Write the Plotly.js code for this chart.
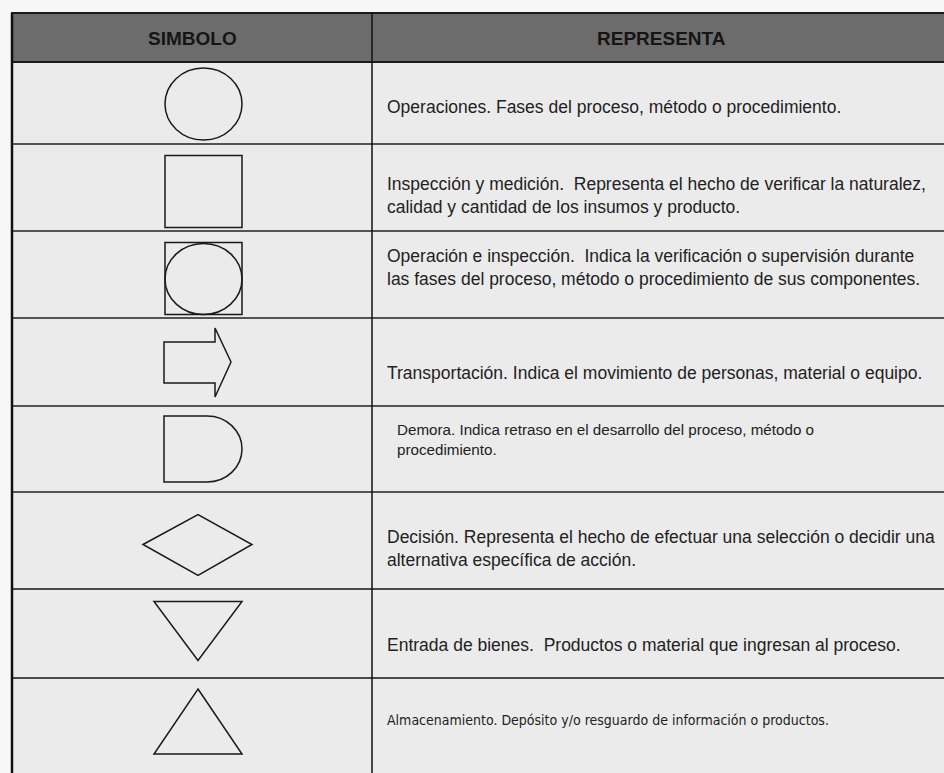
<!DOCTYPE html>
<html>
<head>
<meta charset="utf-8">
<script src="https://cdn.plot.ly/plotly-3.0.1.min.js"></script>
<style>
  html, body { margin: 0; padding: 0; background: #f7f7f7; }
  #chart { width: 944px; height: 773px; }
</style>
</head>
<body>
<div id="chart"></div>
<script>
// ---- data ----
const headers = ['SIMBOLO', 'REPRESENTA'];
const symbols = ['circle', 'square', 'circleInSquare', 'arrow', 'delay', 'diamond', 'triangleDown', 'triangleUp'];
const descriptions = [
  'Operaciones. Fases del proceso, método o procedimiento.',
  'Inspección y medición.  Representa el hecho de verificar la naturalez,<br>calidad y cantidad de los insumos y producto.',
  'Operación e inspección.  Indica la verificación o supervisión durante<br>las fases del proceso, método o procedimiento de sus componentes.',
  'Transportación. Indica el movimiento de personas, material o equipo.',
  'Demora. Indica retraso en el desarrollo del proceso, método o<br>procedimiento.',
  'Decisión. Representa el hecho de efectuar una selección o decidir una<br>alternativa específica de acción.',
  'Entrada de bienes.  Productos o material que ingresan al proceso.',
  'Almacenamiento. Depósito y/o resguardo de información o productos.'
];

// ---- geometry / styles (pixel space of the page) ----
const W = 944, H = 773;
const G = {
  left: 12, right: 948, top: 13, headBottom: 62, colDiv: 372,
  rowBottoms: [144, 231, 318, 406, 492, 589, 678, 800],
  textX: 385
};
const ink = '#1a1a1a';
const lineStyle = { color: ink, width: 1.5 };

const shapes = [];
// table background
shapes.push({ type: 'rect', xref: 'x', yref: 'y', x0: G.left, x1: G.right, y0: G.top, y1: 800,
  fillcolor: '#ebebeb', line: { width: 0 }, layer: 'below' });
// header
shapes.push({ type: 'rect', xref: 'x', yref: 'y', x0: G.left, x1: G.right, y0: G.top, y1: G.headBottom,
  fillcolor: '#6c6c6c', line: { color: ink, width: 2 }, layer: 'below' });

// row separators
const rowTops = [G.headBottom].concat(G.rowBottoms.slice(0, -1));
rowTops.forEach((y, i) => {
  if (i === 0) return;
  shapes.push({ type: 'line', xref: 'x', yref: 'y', x0: G.left, x1: G.right, y0: y, y1: y,
    line: { color: (i === 6 || i === 7) ? '#4a4a4a' : '#222', width: (i === 6 || i === 7) ? 2 : 1.6 } });
});
// vertical lines
shapes.push({ type: 'line', xref: 'x', yref: 'y', x0: G.left, x1: G.left, y0: G.top, y1: 800,
  line: { color: '#111', width: 2.5 } });
shapes.push({ type: 'line', xref: 'x', yref: 'y', x0: G.colDiv, x1: G.colDiv, y0: G.top, y1: 800,
  line: { color: '#111', width: 1.5 } });

// symbols
const k = 0.5523;
function symbolShapes(name, top, bottom) {
  const cy = (top + bottom) / 2;
  const out = [];
  const sx0 = 165, sx1 = 242;
  switch (name) {
    case 'circle':
      out.push({ type: 'circle', x0: sx0, x1: sx1, y0: cy - 35, y1: cy + 37 });
      break;
    case 'square':
      out.push({ type: 'rect', x0: sx0, x1: sx1, y0: cy - 32, y1: cy + 40 });
      break;
    case 'circleInSquare':
      out.push({ type: 'rect', x0: sx0, x1: sx1, y0: cy - 32, y1: cy + 40 });
      out.push({ type: 'circle', x0: sx0, x1: sx1, y0: cy - 31, y1: cy + 40 });
      break;
    case 'arrow': {
      const p = [[164, cy - 20], [215, cy - 20], [215, cy - 34], [231, cy], [215, cy + 35], [215, cy + 21], [164, cy + 21]];
      out.push({ type: 'path', path: 'M' + p.map(q => q.join(',')).join(' L') + ' Z' });
      break;
    }
    case 'delay': {
      const t = cy - 33, b = cy + 33, xs = 207, rx = 35, ry = 33;
      const path = `M164,${t} L${xs},${t} C${xs + rx * k},${t} ${xs + rx},${cy - ry * k} ${xs + rx},${cy} ` +
        `C${xs + rx},${cy + ry * k} ${xs + rx * k},${b} ${xs},${b} L164,${b} Z`;
      out.push({ type: 'path', path });
      break;
    }
    case 'diamond': {
      const c = cy + 4;
      out.push({ type: 'path', path: `M143,${c} L198,${c - 30} L252,${c} L198,${c + 31} Z` });
      break;
    }
    case 'triangleDown': {
      out.push({ type: 'path', path: `M154,${cy - 32} L242,${cy - 32} L198,${cy + 27} Z` });
      break;
    }
    case 'triangleUp': {
      out.push({ type: 'path', path: `M198,${top + 11} L242,${top + 76} L154,${top + 76} Z` });
      break;
    }
  }
  return out.map(s => Object.assign({ xref: 'x', yref: 'y', line: lineStyle, fillcolor: 'rgba(0,0,0,0)' }, s));
}
symbols.forEach((s, i) => {
  symbolShapes(s, rowTops[i], G.rowBottoms[i]).forEach(sh => shapes.push(sh));
});

// annotations
const annotations = [];
annotations.push({ text: '<b>' + headers[0] + '</b>', x: (G.left + G.colDiv) / 2, y: 38, xref: 'x', yref: 'y',
  showarrow: false, font: { family: 'Liberation Sans, Arial, sans-serif', size: 19, color: '#151515' } });
annotations.push({ text: '<b>' + headers[1] + '</b>', x: (G.colDiv + G.right) / 2 + 1, y: 38, xref: 'x', yref: 'y',
  showarrow: false, font: { family: 'Liberation Sans, Arial, sans-serif', size: 19, color: '#151515' } });

const textY = [107, 195, 267, 373, 439, 548, 645, 720];
descriptions.forEach((d, i) => {
  let font = { family: 'Liberation Sans, Arial, sans-serif', size: 17.5, color: '#222' };
  let x = G.textX;
  if (i === 4) { font = Object.assign({}, font, { size: 15.2 }); x = 395; }
  if (i === 7) { font = { family: 'DejaVu Sans Condensed, Liberation Sans Narrow, sans-serif', size: 14, color: '#222' }; }
  annotations.push({ text: d, x, y: textY[i], xref: 'x', yref: 'y', xanchor: 'left', yanchor: 'middle',
    align: 'left', showarrow: false, font });
});

const layout = {
  width: W, height: H,
  margin: { l: 0, r: 0, t: 0, b: 0 },
  paper_bgcolor: '#f7f7f7', plot_bgcolor: 'rgba(0,0,0,0)',
  xaxis: { range: [0, W], visible: false, fixedrange: true },
  yaxis: { range: [H, 0], visible: false, fixedrange: true },
  showlegend: false,
  shapes, annotations
};

Plotly.newPlot('chart', [{ x: [], y: [], type: 'scatter', mode: 'markers', hoverinfo: 'skip' }], layout,
  { staticPlot: true, displayModeBar: false });
</script>
</body>
</html>
